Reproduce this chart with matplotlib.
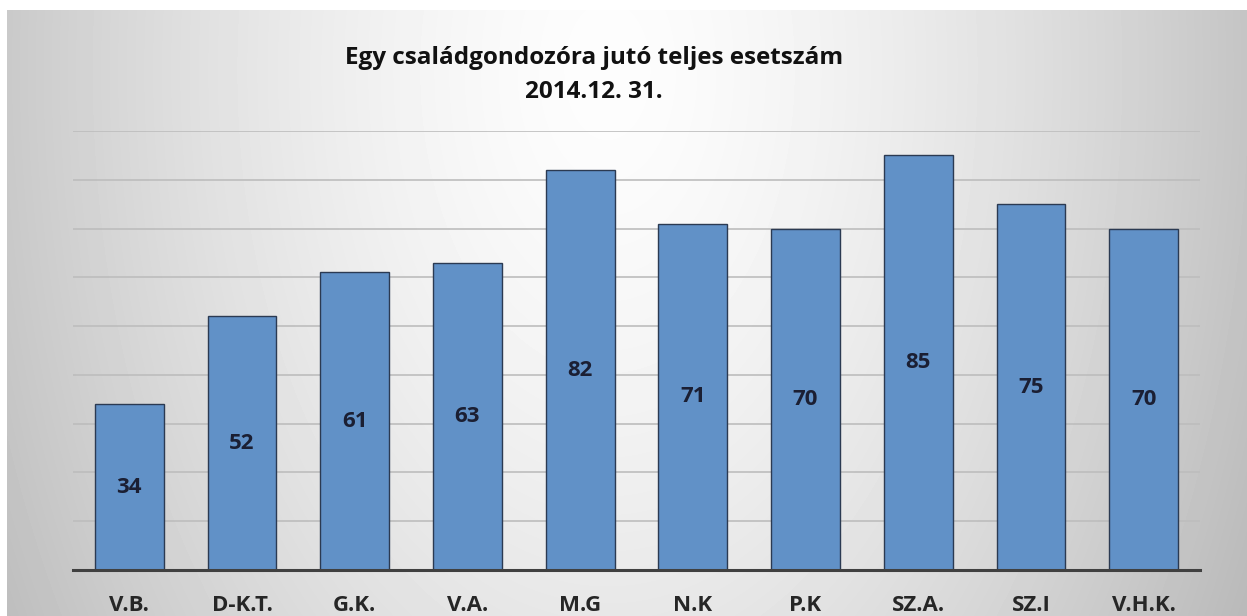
import numpy as np
import matplotlib.pyplot as plt

# data
categories = ['V.B.', 'D-K.T.', 'G.K.', 'V.A.', 'M.G', 'N.K', 'P.K', 'SZ.A.', 'SZ.I', 'V.H.K.']
values = [34, 52, 61, 63, 82, 71, 70, 85, 75, 70]
title = 'Egy családgondozóra jutó teljes esetszám\n2014.12. 31.'

plt.rcParams['font.family'] = ['Open Sans', 'DejaVu Sans']

W, H = 1247, 616
fig = plt.figure(figsize=(W / 100, H / 100), dpi=100)
fig.patch.set_facecolor('white')

# gradient background (radial, lighter near top centre)
bg = fig.add_axes([7 / W, 0, 1 - 7 / W, 1 - 10 / H])
bg.set_axis_off()
yy, xx = np.mgrid[0:606, 0:1240]
cx, cy = 600, 60
r = np.sqrt(((xx - cx) / 680.0) ** 2 + ((yy - cy) / 1100.0) ** 2)
shade = 253 - 62 * np.clip(r, 0, 1.2) ** 1.5
bg.imshow(shade / 255.0, cmap='gray', vmin=0, vmax=1, aspect='auto',
          extent=[0, 1, 0, 1], origin='upper', interpolation='bilinear')
bg.set_xlim(0, 1)
bg.set_ylim(0, 1)

ax = fig.add_axes([73 / W, 1 - 570 / H, (1200 - 73) / W, (570 - 131) / H])
ax.patch.set_alpha(0)
x = np.arange(len(categories))
bars = ax.bar(x, values, width=0.61, color='#6191c7', edgecolor='#2b3a52',
              linewidth=1.0, zorder=3)
for xi, v in zip(x, values):
    ax.text(xi, v / 2, str(v), ha='center', va='center', fontsize=16,
            fontweight='bold', color='#1b1f33', zorder=4)

ax.set_xlim(-0.5, len(categories) - 0.5)
ax.set_ylim(0, 90)
ax.set_yticks(np.arange(0, 91, 10))
ax.yaxis.grid(True, color='#bdbdbd', linewidth=1.2, zorder=0)
ax.tick_params(axis='y', left=False, labelleft=False)
ax.set_xticks(x)
ax.set_xticklabels(categories, fontsize=16, fontweight='bold', color='#262626')
ax.tick_params(axis='x', length=0, pad=18)
for s in ['top', 'right', 'left']:
    ax.spines[s].set_visible(False)
ax.spines['bottom'].set_color('#404040')
ax.spines['bottom'].set_linewidth(2.2)
ax.spines['bottom'].set_zorder(5)

fig.text(0.476, 1 - 75 / H, title, ha='center', va='center', fontsize=17.5,
         fontweight='bold', color='#111111', linespacing=1.6)

fig.savefig('out.png', dpi=100)
